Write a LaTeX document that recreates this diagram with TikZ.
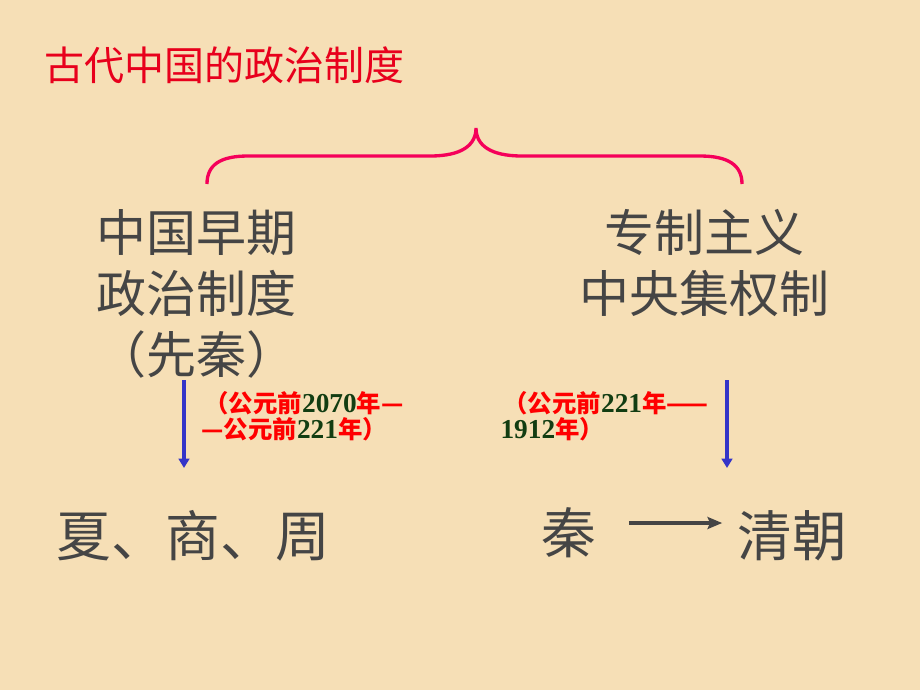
\documentclass[tikz,border=0pt]{standalone}
\usepackage{fontspec}
\setmainfont{Liberation Serif}
\newfontfamily\hei{Noto Sans CJK SC}
\usetikzlibrary{arrows.meta}
\definecolor{paper}{HTML}{F6DFB6}
\definecolor{titlered}{HTML}{E8001C}
\definecolor{bracepink}{HTML}{F5005A}
\definecolor{textgray}{HTML}{454545}
\definecolor{arrowblue}{HTML}{3434C8}
\definecolor{datered}{HTML}{FF0000}
\definecolor{numgreen}{HTML}{123D12}
\newcommand{\yr}[1]{{\rmfamily\bfseries\fontsize{20.5}{23}\selectfont\color{numgreen}#1}}
\tikzset{every picture/.style={line width=0.75pt}}
\tikzset{
  big/.style={text=textgray,font=\hei\fontsize{37.5}{46}\selectfont,align=center,inner sep=0pt},
  bigger/.style={text=textgray,font=\hei\fontsize{41}{46}\selectfont,inner sep=0pt},
  datetext/.style={text=datered,font=\hei\bfseries\fontsize{18.3}{23}\selectfont,anchor=west,inner sep=0pt},
  downarrow/.style={draw=arrowblue,line width=2.6pt,-{Triangle[length=7pt,width=8pt]}},
}

\begin{document}
\begin{tikzpicture}[x=0.75pt,y=0.75pt,yscale=-1,xscale=1]
	%background
	\fill[paper] (0,0) rectangle (920,690);
	\useasboundingbox (0,0) rectangle (920,690);

	% Text Node
	\node[anchor=west,inner sep=0pt,text=titlered,font=\hei\fontsize{30}{36}\selectfont] (title) at (44,65) {古代中国的政治制度};

	%Shape: Brace
	\coordinate (braceL) at (207,184);
	\coordinate (braceR) at (742,184);
	\coordinate (braceTip) at (476,128);
	\draw[bracepink,line width=2.5pt] (braceL) .. controls (207,165) and (220,156) .. (248,156) -- (430,156) .. controls (462,156) and (476,145) .. (braceTip) .. controls (476,145) and (490,156) .. (522,156) -- (700,156) .. controls (728,156) and (742,165) .. (braceR);

	% Text Node
	\node[big] (early) at (196,294) {中国早期\\政治制度\\（先秦）};
	% Text Node
	\node[big] (central) at (704,263) {专制主义\\中央集权制};

	% Text Node
	\node[datetext] (leftdate1) at (204,403) {（公元前\yr{2070}年—};
	\node[datetext] (leftdate2) at (201,429) {—公元前\yr{221}年）};
	% Text Node
	\node[datetext] (rightdate1) at (503,403) {（公元前\yr{221}年——};
	\node[datetext] (rightdate2) at (500,429) {\yr{1912}年）};

	% Text Node
	\node[bigger] (xia) at (193,536) {夏、商、周};
	\node[bigger] (qin) at (569,533) {秦};
	\node[bigger] (qing) at (792,536) {清朝};

	%Straight Lines
	\coordinate (leftTop) at (184,380);
	\coordinate (leftEnd) at (184,468);
	\coordinate (rightTop) at (727,380);
	\coordinate (rightEnd) at (727,468);
	\draw[downarrow] (leftTop) -- (leftEnd);
	\draw[downarrow] (rightTop) -- (rightEnd);

	%Straight Lines
	\draw[textgray,line width=2.3pt,-{Stealth[length=11pt,width=9pt,inset=2pt]}] ([xshift=24pt,yshift=-7.5pt]qin.east) -- ([xshift=-11pt,yshift=-9.75pt]qing.west);

\end{tikzpicture}
\end{document}
